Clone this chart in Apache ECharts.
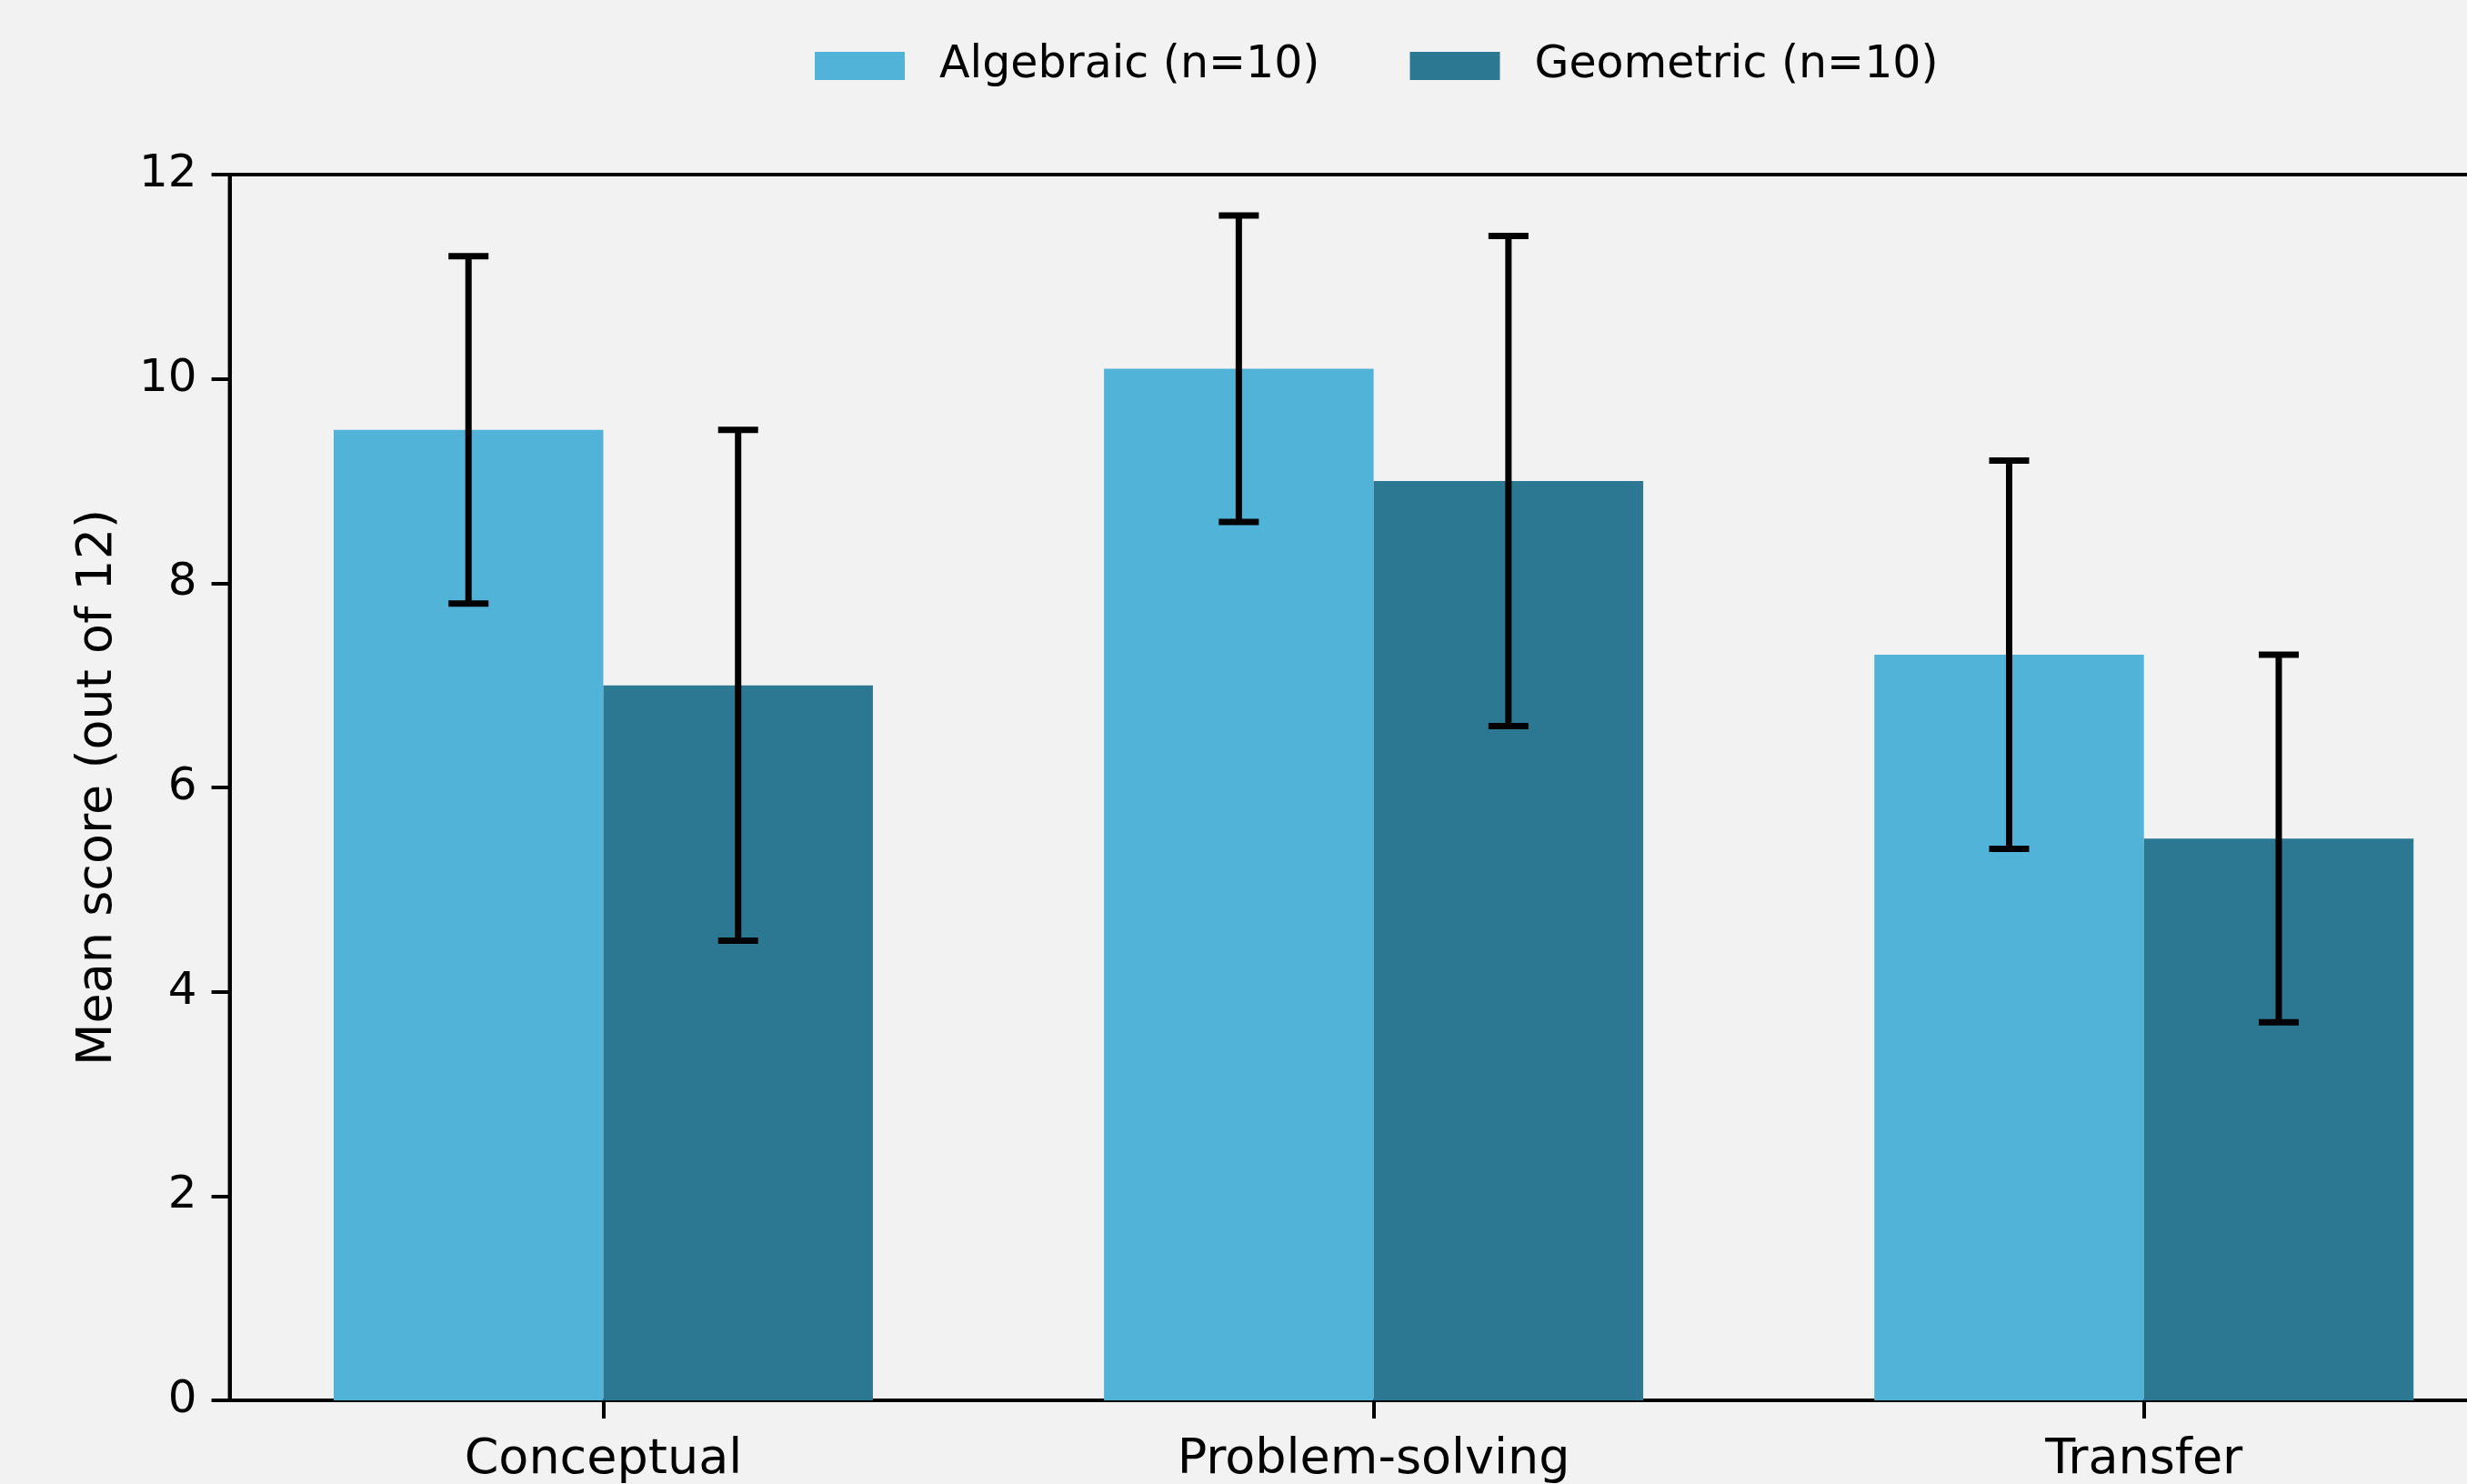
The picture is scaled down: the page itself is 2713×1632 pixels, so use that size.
<!DOCTYPE html>
<html>
<head>
<meta charset="utf-8">
<style>
  html, body { margin: 0; padding: 0; background: #f2f2f2; }
  #chart { width: 2713px; height: 1632px; }
</style>
<script src="https://cdn.jsdelivr.net/npm/echarts@6/dist/echarts.min.js"></script>
</head>
<body>
<div id="chart"></div>
<script>
// ---- data ----
const categories = ['Conceptual', 'Problem-solving', 'Transfer'];
const seriesNames = ['Algebraic (n=10)', 'Geometric (n=10)'];
const algebraicMean = [9.5, 10.1, 7.3];
const algebraicSD = [1.7, 1.5, 1.9];
const geometricMean = [7.0, 9.0, 5.5];
const geometricSD = [2.5, 2.4, 1.8];
const yTicks = [0, 2, 4, 6, 8, 10, 12];

// ---- style ----
const COLORS = ['#52b3d9', '#2c7893'];
const BAR_W = 0.35;
const FONT = 'DejaVu Sans';

const chart = echarts.init(document.getElementById('chart'), null, { renderer: 'canvas' });

function makeData(means, sds) {
  return means.map((m, i) => [i, m, sds[i]]);
}

function barRenderer(offset, color) {
  return function (params, api) {
    const x = api.value(0), y = api.value(1);
    const p0 = api.coord([x + offset - BAR_W / 2, y]);
    const p1 = api.coord([x + offset + BAR_W / 2, 0]);
    return {
      type: 'rect',
      shape: { x: p0[0], y: p0[1], width: p1[0] - p0[0], height: p1[1] - p0[1] },
      style: { fill: color }
    };
  };
}

function errRenderer(offset) {
  return function (params, api) {
    const x = api.value(0) + offset, y = api.value(1), sd = api.value(2);
    const top = api.coord([x, y + sd]);
    const bot = api.coord([x, y - sd]);
    const cap = 22;
    const st = { stroke: '#000', lineWidth: 7 };
    return {
      type: 'group',
      children: [
        { type: 'line', shape: { x1: top[0], y1: top[1], x2: bot[0], y2: bot[1] }, style: st },
        { type: 'line', shape: { x1: top[0] - cap, y1: top[1], x2: top[0] + cap, y2: top[1] }, style: st },
        { type: 'line', shape: { x1: bot[0] - cap, y1: bot[1], x2: bot[0] + cap, y2: bot[1] }, style: st }
      ]
    };
  };
}

const option = {
  backgroundColor: '#f2f2f2',
  animation: false,
  textStyle: { fontFamily: FONT },
  legend: {
    left: 896,
    top: 48,
    padding: 0,
    itemWidth: 99,
    itemHeight: 31,
    itemGap: 99,
    icon: 'rect',
    textStyle: { fontFamily: FONT, fontSize: 49, color: '#000', padding: [0, 0, 0, 33] },
    data: [
      { name: seriesNames[0], itemStyle: { color: COLORS[0] } },
      { name: seriesNames[1], itemStyle: { color: COLORS[1] } }
    ]
  },
  grid: {
    left: 252.6,
    top: 192,
    width: 2516,
    height: 1348,
    show: true,
    borderColor: '#000',
    borderWidth: 4,
    backgroundColor: 'transparent',
    containLabel: false,
    outerBoundsMode: 'none'
  },
  xAxis: {
    type: 'value',
    min: -0.485,
    max: 2.485,
    splitLine: { show: false },
    axisLine: { show: true, onZero: false, lineStyle: { color: '#000', width: 4 } },
    axisTick: { show: true, length: 20, lineStyle: { color: '#000', width: 4 }, customValues: [0, 1, 2] },
    axisLabel: {
      show: true,
      customValues: [0, 1, 2],
      formatter: v => categories[Math.round(v)],
      fontFamily: FONT, fontSize: 54, color: '#000', margin: 39
    }
  },
  yAxis: {
    type: 'value',
    min: 0,
    max: 12,
    interval: 2,
    name: 'Mean score (out of 12)',
    nameLocation: 'middle',
    nameGap: 118,
    nameTextStyle: { fontFamily: FONT, fontSize: 54, color: '#000' },
    splitLine: { show: false },
    axisLine: { show: true, onZero: false, lineStyle: { color: '#000', width: 4 } },
    axisTick: { show: true, length: 20, lineStyle: { color: '#000', width: 4 } },
    axisLabel: {
      fontFamily: FONT, fontSize: 50, color: '#000', margin: 36,
      formatter: v => (yTicks.indexOf(v) >= 0 ? String(v) : '')
    }
  },
  series: [
    {
      name: seriesNames[0], type: 'custom', itemStyle: { color: COLORS[0] },
      renderItem: barRenderer(-BAR_W / 2, COLORS[0]),
      encode: { x: 0, y: 1 },
      data: makeData(algebraicMean, algebraicSD), z: 2
    },
    {
      name: seriesNames[0], type: 'custom',
      renderItem: errRenderer(-BAR_W / 2),
      encode: { x: 0, y: 1 },
      data: makeData(algebraicMean, algebraicSD), z: 3
    },
    {
      name: seriesNames[1], type: 'custom', itemStyle: { color: COLORS[1] },
      renderItem: barRenderer(BAR_W / 2, COLORS[1]),
      encode: { x: 0, y: 1 },
      data: makeData(geometricMean, geometricSD), z: 4
    },
    {
      name: seriesNames[1], type: 'custom',
      renderItem: errRenderer(BAR_W / 2),
      encode: { x: 0, y: 1 },
      data: makeData(geometricMean, geometricSD), z: 5
    }
  ]
};

chart.setOption(option);
</script>
</body>
</html>
